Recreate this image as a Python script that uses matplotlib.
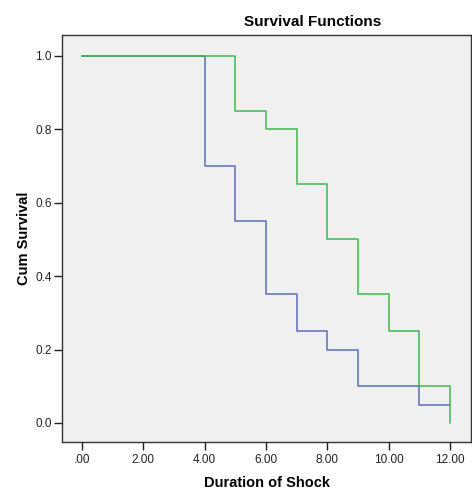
import matplotlib.pyplot as plt
from matplotlib.ticker import FuncFormatter

plt.rcParams['font.family'] = ['Liberation Sans', 'DejaVu Sans']

# tiempos y supervivencia acumulada
t_azul = [0, 4, 5, 6, 7, 8, 9, 11, 12]
s_azul = [1.0, 0.70, 0.55, 0.35, 0.25, 0.20, 0.10, 0.05, 0.05]
t_verde = [0, 5, 6, 7, 8, 9, 10, 11, 12]
s_verde = [1.0, 0.85, 0.80, 0.65, 0.50, 0.35, 0.25, 0.10, 0.0]

x_ticks = [0, 2, 4, 6, 8, 10, 12]
y_ticks = [0.0, 0.2, 0.4, 0.6, 0.8, 1.0]

fig = plt.figure(figsize=(4.72, 5.03), dpi=100)
ax = fig.add_axes([0.1314, 0.1213, 0.8665, 0.8091])
ax.set_facecolor('#f0f0f0')

ax.step(t_azul, s_azul, where='post', color='#5b6dbb', lw=1.1)
ax.step(t_verde, s_verde, where='post', color='#3dba4e', lw=1.1)

ax.set_xlim(-0.652, 12.68)
ax.set_ylim(-0.052, 1.057)
ax.set_xticks(x_ticks)
ax.set_yticks(y_ticks)
ax.xaxis.set_major_formatter(FuncFormatter(lambda v, p: ".00" if v == 0 else f"{v:.2f}"))
ax.yaxis.set_major_formatter(FuncFormatter(lambda v, p: f"{v:.1f}"))
ax.tick_params(direction='out', length=6, width=1, labelsize=8.5, colors='#222222')
ax.tick_params(axis='y', pad=1.5)
ax.tick_params(axis='x', pad=2.5)

for s in ax.spines.values():
    s.set_color('#333333')
    s.set_linewidth(1)

ax.set_xlabel("Duration of Shock", fontsize=10.5, fontweight='bold', labelpad=7)
ax.set_ylabel("Cum Survival", fontsize=10.5, fontweight='bold', labelpad=3)
fig.text(313 / 472, 1 - 22 / 503, "Survival Functions", fontsize=11, fontweight='bold',
         ha='center', va='center')

fig.savefig("out.png", dpi=100)
